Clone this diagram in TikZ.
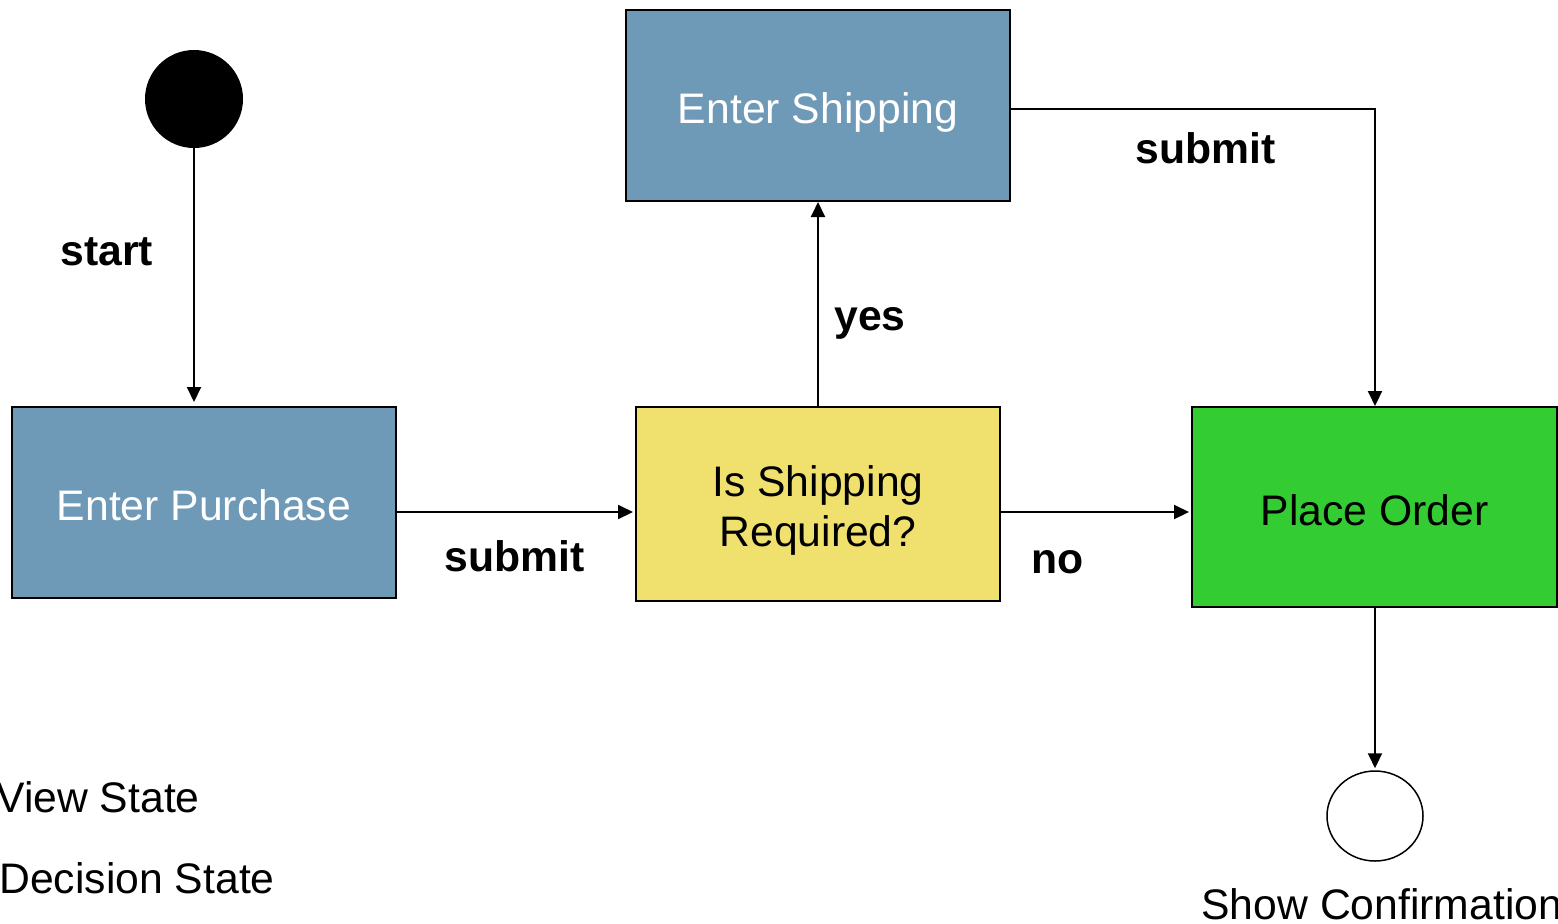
\documentclass[tikz,border=0pt]{standalone}
\usepackage{fontspec}
\setmainfont{Liberation Sans}
\usetikzlibrary{arrows.meta,shapes.geometric}
\definecolor{viewblue}{HTML}{6F9AB7}
\definecolor{decyellow}{HTML}{F0E16F}
\definecolor{ordergreen}{HTML}{33CC33}
\begin{document}
\begin{tikzpicture}[x=0.5pt,y=-0.5pt,
  txt/.style={font=\fontsize{21.35}{25}\selectfont},
  lbl/.style={font=\fontsize{21.35}{25}\selectfont\bfseries, anchor=base west, inner sep=0pt},
  statebox/.style={draw=black, line width=1pt, txt, inner sep=0pt, align=center},
  oneline/.style={text height=18pt, text depth=0pt},
  viewstate/.style={statebox, oneline, fill=viewblue, text=white},
  arr/.style={line width=1pt, -{Triangle[length=7.5pt,width=7pt]}, shorten >=1pt}]
\useasboundingbox (0,0) rectangle (1558,923);

% states
\node[circle, fill=black, minimum size=49pt, inner sep=0pt] (start) at (194,99) {};
\node[viewstate, minimum width=192pt, minimum height=95.5pt] (purchase) at (204,502.5) {Enter Purchase};
\node[viewstate, minimum width=192pt, minimum height=95.5pt] (ship) at (818,105.5) {Enter Shipping};
\node[statebox, fill=decyellow, minimum width=182pt, minimum height=97pt,
      label={[txt, align=center, yshift=-3pt]center:{Is Shipping\\Required?}}] (decision) at (818,504) {};
\node[statebox, oneline, fill=ordergreen, minimum width=182.5pt, minimum height=100pt] (order) at (1374.5,507) {Place Order};
\node[ellipse, draw=black, line width=0.75pt, minimum width=48pt, minimum height=45pt, inner sep=0pt] (finish) at (1375,816) {};

% transitions
\draw[arr, shorten >=2pt] (start.south) -- (purchase.north -| start.south);
\draw[arr] (purchase.east |- {0,512}) -- (decision.west |- {0,512});
\draw[arr, shorten >=0pt] (decision.north) -- (ship.south);
\draw[arr] (decision.east |- {0,512}) -- (order.west |- {0,512});
\draw[arr, shorten >=0pt] (ship.east |- {0,109}) -| (order.north -| finish.north);
\draw[arr] (order.south -| finish.north) -- (finish.north);

% transition labels
\node[lbl] (lstart) at (60,265) {start};
\node[lbl] (lsubmit1) at (444,571) {submit};
\node[lbl] (lyes) at (834,330) {yes};
\node[lbl] (lno) at (1031,573) {no};
\node[lbl] (lsubmit2) at (1135,163) {submit};

% captions
\node[txt, anchor=base west, inner sep=0pt] (cview) at (-4,812) {View State};
\node[txt, anchor=base west, inner sep=0pt] (cdec) at (-1,893) {Decision State};
\node[txt, anchor=base west, inner sep=0pt] (cshow) at (1201,919) {Show Confirmation};
\end{tikzpicture}
\end{document}
